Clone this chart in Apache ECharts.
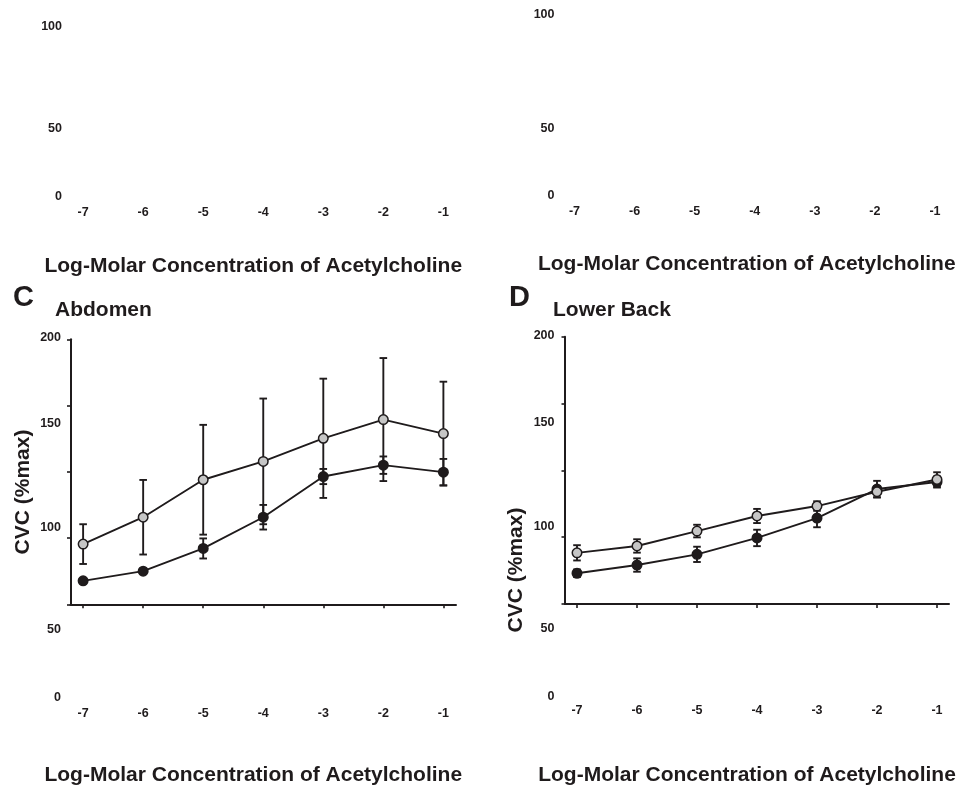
<!DOCTYPE html>
<html>
<head>
<meta charset="utf-8">
<script src="https://cdn.jsdelivr.net/npm/echarts@6/dist/echarts.min.js"></script>
<style>
html,body{margin:0;padding:0;background:#fff;}
#chart{width:965px;height:787px;}
</style>
</head>
<body>
<div id="chart"></div>
<script>
// ---- data ----
const xValues = [-7, -6, -5, -4, -3, -2, -1];
const xAxisTitle = 'Log-Molar Concentration of Acetylcholine';
const yAxisTitle = 'CVC (%max)';
const topYTickLabels = ['100', '50', '0'];
const bottomYTickLabels = ['200', '150', '100', '50', '0'];
const yTickValues = [60, 95, 130, 165, 200];

// Panel C: Abdomen
const abdomenGrey = [91.8, 106.0, 125.8, 135.5, 147.7, 157.6, 150.2];
const abdomenGreyErr = [10.5, 19.7, 29.0, 33.2, 31.5, 32.5, 27.4];
const abdomenBlack = [72.4, 77.5, 89.5, 106.0, 127.5, 133.5, 129.8];
const abdomenBlackErr = [1.0, 1.0, 5.3, 6.5, 4.0, 4.6, 7.0];

// Panel D: Lower Back
const lowerBackGrey = [86.8, 90.4, 98.2, 106.1, 111.3, 118.8, 125.2];
const lowerBackGreyErr = [4.0, 3.5, 3.3, 3.7, 2.5, 3.0, 3.8];
const lowerBackBlack = [76.1, 80.4, 86.0, 94.6, 105.0, 120.2, 123.9];
const lowerBackBlackErr = [2.0, 3.5, 4.0, 4.3, 4.8, 4.3, 2.9];

// ---- styling ----
const INK = '#1f1b1c';
const GREY = '#c6c6c6';
const FONT = "'Liberation Sans', Arial, Helvetica, sans-serif";

const chart = echarts.init(document.getElementById('chart'), null, {renderer: 'canvas'});

const grids = [
  {left: 70.5, top: 20, width: 385.5, height: 180},     // A
  {left: 562.5, top: 20, width: 384.5, height: 180},    // B
  {left: 70.5, top: 339.3, width: 385.5, height: 265},  // C
  {left: 565, top: 336.7, width: 384, height: 268.3}    // D
];

function xAxisFor(idx, min, max, showLine, labelMargin, nameGap, namePadRight) {
  return {
    type: 'value', gridIndex: idx, min: min, max: max,
    axisLine: {show: showLine, onZero: false, lineStyle: {color: INK, width: 2}},
    axisTick: {show: showLine, customValues: xValues, length: 4, lineStyle: {color: INK, width: 1.6}},
    axisLabel: {show: true, customValues: xValues, margin: labelMargin,
      color: INK, fontFamily: FONT, fontWeight: 'bold', fontSize: 12.5},
    splitLine: {show: false},
    name: xAxisTitle, nameLocation: 'middle', nameGap: nameGap,
    nameTextStyle: {color: INK, fontFamily: FONT, fontWeight: 'bold', fontSize: 21,
      padding: [0, namePadRight, 0, 0]}
  };
}

function yAxisFor(idx, show) {
  if (!show) {
    return {type: 'value', gridIndex: idx, min: 0, max: 100, show: false};
  }
  return {
    type: 'value', gridIndex: idx, min: 60, max: 200,
    axisLine: {show: true, lineStyle: {color: INK, width: 2}},
    axisTick: {show: true, customValues: yTickValues, length: 3.5, lineStyle: {color: INK, width: 1.6}},
    axisLabel: {show: false},
    splitLine: {show: false}
  };
}

function pairs(vals) { return xValues.map((x, i) => [x, vals[i]]); }
function triples(vals, errs) { return xValues.map((x, i) => [x, vals[i], errs[i]]); }

function errorSeries(idx, vals, errs, z) {
  return {
    type: 'custom', xAxisIndex: idx, yAxisIndex: idx, z: z, silent: true,
    data: triples(vals, errs),
    renderItem: function (params, api) {
      const x = api.value(0), y = api.value(1), e = api.value(2);
      const p1 = api.coord([x, y + e]);
      const p2 = api.coord([x, y - e]);
      const hw = 3.8;
      const st = {stroke: INK, lineWidth: 1.9};
      return {
        type: 'group',
        children: [
          {type: 'line', shape: {x1: p1[0], y1: p1[1], x2: p2[0], y2: p2[1]}, style: st},
          {type: 'line', shape: {x1: p1[0] - hw, y1: p1[1], x2: p1[0] + hw, y2: p1[1]}, style: st},
          {type: 'line', shape: {x1: p2[0] - hw, y1: p2[1], x2: p2[0] + hw, y2: p2[1]}, style: st}
        ]
      };
    }
  };
}

function lineSeries(idx, vals, fill, z) {
  return {
    type: 'line', xAxisIndex: idx, yAxisIndex: idx, z: z,
    data: pairs(vals),
    symbol: 'circle', symbolSize: 9.5,
    lineStyle: {color: INK, width: 1.9},
    itemStyle: {color: fill, borderColor: INK, borderWidth: 1.5},
    emphasis: {disabled: true}
  };
}

function txt(text, x, y, size, align, rotate) {
  return {
    type: 'text', x: x, y: y, rotation: rotate || 0, silent: true,
    style: {text: text, fill: INK, font: 'bold ' + size + 'px ' + FONT,
      align: align || 'left', verticalAlign: 'middle'}
  };
}

// y tick label layout (as drawn in the reference)
const topLabelRightA = 62, topLabelRightB = 554.5;
const topLabelYs = [[26.7, 128.7, 196.7], [14.7, 128.7, 195.7]];
const botLabelRightC = 61, botLabelRightD = 554.5;
const botLabelYs = [[337.3, 423.3, 527.3, 630, 697.3], [336, 422.7, 526.7, 628.3, 696.7]];

const graphics = [];
topYTickLabels.forEach((t, i) => {
  graphics.push(txt(t, topLabelRightA, topLabelYs[0][i], 12.5, 'right'));
  graphics.push(txt(t, topLabelRightB, topLabelYs[1][i], 12.5, 'right'));
});
bottomYTickLabels.forEach((t, i) => {
  graphics.push(txt(t, botLabelRightC, botLabelYs[0][i], 12.5, 'right'));
  graphics.push(txt(t, botLabelRightD, botLabelYs[1][i], 12.5, 'right'));
});
graphics.push(txt('C', 13, 298, 29, 'left'));
graphics.push(txt('Abdomen', 55, 310, 21, 'left'));
graphics.push(txt('D', 509, 298, 29, 'left'));
graphics.push(txt('Lower Back', 553, 310, 21, 'left'));
graphics.push(txt(yAxisTitle, 23, 492, 21, 'center', Math.PI / 2));
graphics.push(txt(yAxisTitle, 516, 570, 21, 'center', Math.PI / 2));

const option = {
  animation: false,
  backgroundColor: '#ffffff',
  grid: grids,
  xAxis: [
    xAxisFor(0, -7.21, -0.79, false, 6, 56, 20),
    xAxisFor(1, -7.2, -0.8, false, 5, 54, 16),
    xAxisFor(2, -7.21, -0.79, true, 103, 160, 20),
    xAxisFor(3, -7.2, -0.8, true, 100.5, 161, 20)
  ],
  yAxis: [yAxisFor(0, false), yAxisFor(1, false), yAxisFor(2, true), yAxisFor(3, true)],
  series: [
    errorSeries(2, abdomenBlack, abdomenBlackErr, 2),
    errorSeries(2, abdomenGrey, abdomenGreyErr, 2),
    lineSeries(2, abdomenBlack, INK, 3),
    lineSeries(2, abdomenGrey, GREY, 4),
    errorSeries(3, lowerBackBlack, lowerBackBlackErr, 2),
    errorSeries(3, lowerBackGrey, lowerBackGreyErr, 2),
    lineSeries(3, lowerBackBlack, INK, 3),
    lineSeries(3, lowerBackGrey, GREY, 4)
  ],
  graphic: graphics
};

chart.setOption(option);
</script>
</body>
</html>
